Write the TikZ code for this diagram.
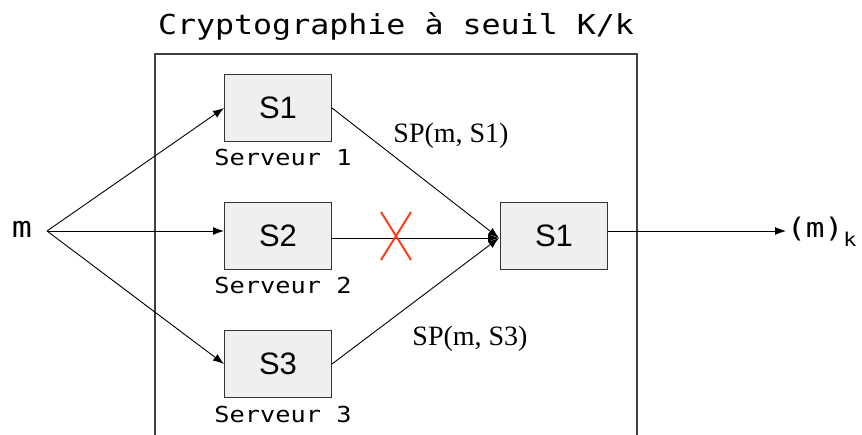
\documentclass[tikz,border=0pt]{standalone}
\usepackage{fontspec}
\setmainfont{Liberation Serif}
\setsansfont{Liberation Sans}
\newfontfamily\monofont[FakeStretch=1.15]{DejaVu Sans Mono}
\usetikzlibrary{arrows.meta}
\definecolor{boxgray}{HTML}{EFEFEF}
\definecolor{xred}{HTML}{FF3B14}
\tikzset{
  srv/.style={draw=black!80, fill=boxgray, line width=1pt, minimum width=107pt, minimum height=67pt, inner sep=0pt, font=\sffamily\fontsize{31}{31}\selectfont},
  lbl/.style={anchor=base, font=\monofont\fontsize{22}{22}\selectfont},
  sp/.style={anchor=base, font=\fontsize{28}{28}\selectfont},
  arr/.style={-{Latex[length=11pt,width=8pt]}, line width=0.9pt},
}
\begin{document}
\begin{tikzpicture}[x=1pt,y=-1pt]
\useasboundingbox (0,0) rectangle (862,435);
% cadre
\draw[black!75, line width=1.4pt] (155,440) -- (155,54) -- (637,54) -- (637,440);
\node[anchor=base, font=\monofont\fontsize{27.5}{27.5}\selectfont] (titre) at (396,35) {Cryptographie à seuil K/k};
% serveurs
\node[srv] (s1) at (278,108) {S1};
\node[srv] (s2) at (278,236) {S2};
\node[srv] (s3) at (278,364) {S3};
\node[srv] (comb) at (554,236) {S1};
\node[lbl] (n1) at (283,166) {Serveur 1};
\node[lbl] (n2) at (283,294) {Serveur 2};
\node[lbl] (n3) at (283,422) {Serveur 3};
% message
\node[font=\monofont\fontsize{29}{29}\selectfont] (msg) at (22,229) {m};
\coordinate (src) at (47,231);
\draw[arr] (src) -- (s1.west);
\draw[arr] (src) -- (s2.west |- src);
\draw[arr] (src) -- (s3.west);
\coordinate (join) at (499,238);
\draw[arr] (s1.east) -- (join);
\draw[arr] (s2.east |- join) -- (join);
\draw[arr] (s3.east) -- (join);
\node[sp] (sp1) at (451,143) {SP(m, S1)};
\node[sp] (sp3) at (470,346) {SP(m, S3)};
% panne
\draw[xred, line width=2pt] (381,212) -- (411,260) (381,260) -- (411,212);
% sortie
\coordinate (tip) at (786,231);
\draw[arr] (comb.east |- tip) -- (tip);
\node[anchor=base west, inner sep=0pt, font=\monofont\fontsize{27}{27}\selectfont] (out) at (787,238) {(m)\raisebox{-9pt}{\fontsize{19}{19}\selectfont k}};
\end{tikzpicture}
\end{document}
